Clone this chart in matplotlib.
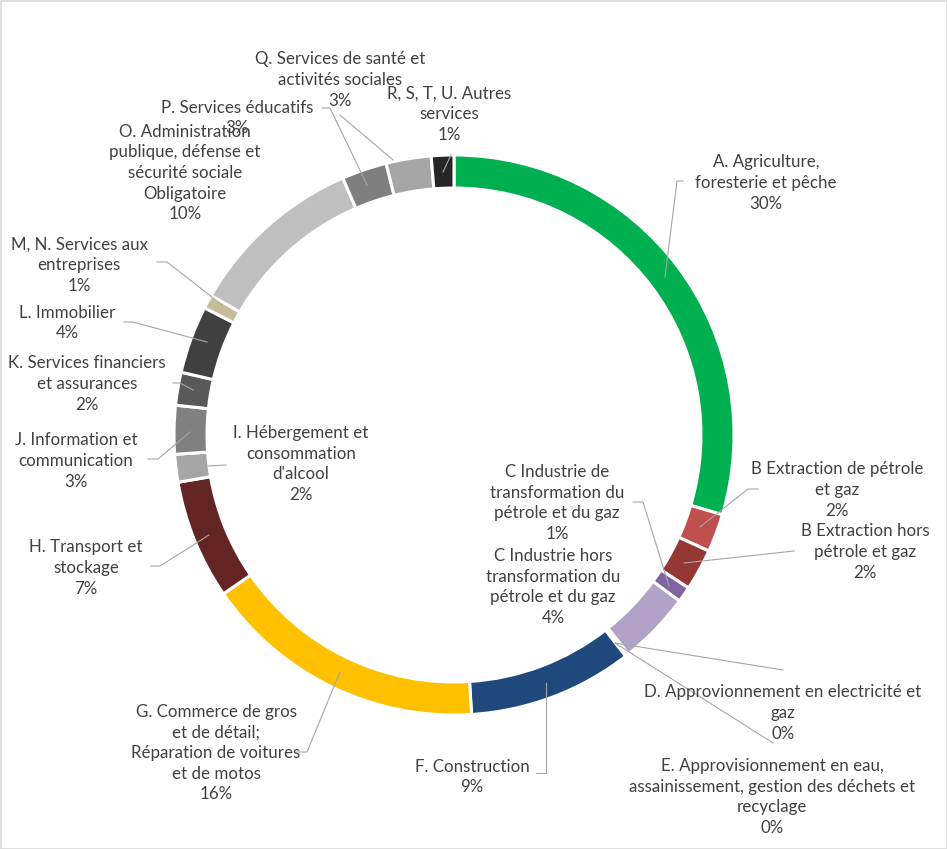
import matplotlib
matplotlib.use("Agg")
import matplotlib.pyplot as plt
from matplotlib.patches import Rectangle

# ---- data ----
categories = [
    "A. Agriculture,\nforesterie et pêche",
    "B Extraction de pétrole\net gaz",
    "B Extraction hors\npétrole et gaz",
    "C Industrie de\ntransformation du\npétrole et du gaz",
    "C Industrie hors\ntransformation du\npétrole et du gaz",
    "D. Approvionnement en electricité et\ngaz",
    "E. Approvisionnement en eau,\nassainissement, gestion des déchets et\nrecyclage",
    "F. Construction",
    "G. Commerce de gros\net de détail;\nRéparation de voitures\net de motos",
    "H. Transport et\nstockage",
    "I. Hébergement et\nconsommation\nd'alcool",
    "J. Information et\ncommunication",
    "K. Services financiers\net assurances",
    "L. Immobilier",
    "M, N. Services aux\nentreprises",
    "O. Administration\npublique, défense et\nsécurité sociale\nObligatoire",
    "P. Services éducatifs",
    "Q. Services de santé et\nactivités sociales",
    "R, S, T, U. Autres\nservices",
]
values = [29.6, 2.2, 2.4, 0.9, 4.2, 0.1, 0.1, 9.5, 16.4, 6.9,
          1.6, 2.8, 1.9, 3.9, 0.8, 10.2, 2.6, 2.6, 1.3]
pct_labels = ["30%", "2%", "2%", "1%", "4%", "0%", "0%", "9%", "16%", "7%",
              "2%", "3%", "2%", "4%", "1%", "10%", "3%", "3%", "1%"]

# ---- styles / layout ----
colors = ["#00B050", "#C0504D", "#953735", "#8064A2", "#B3A2C7", "#4F81BD",
          "#4BACC6", "#1F497D", "#FFC000", "#632523", "#A6A6A6", "#808080",
          "#595959", "#404040", "#C4BD97", "#BFBFBF", "#7F7F7F", "#A6A6A6",
          "#262626"]
label_pos = [(766, 183), (837, 490), (865, 552), (557, 503), (553, 587),
             (783, 713), (772, 797), (472, 777), (216, 753), (86, 568),
             (301, 464), (76, 461), (87, 384), (67, 323), (79, 265),
             (185, 173), (237, 118), (340, 80), (449, 114)]
leaders = [
    [(683, 181), (677, 181), (665, 277)],
    [(758, 489), (748, 489), (700, 527)],
    [(794, 551), (684, 563)],
    [(633, 502), (643, 502), (669, 586)],
    [(783, 670), (615, 643)],
    [(773, 743), (615, 643)],
    [(536, 773), (546, 773), (546, 683)],
    [(297, 752), (307, 752), (340, 672)],
    [(151, 566), (160, 566), (209, 535)],
    [(226, 465), (208, 466)],
    [(148, 459), (158, 459), (190, 432)],
    [(173, 383), (180, 383), (193, 390)],
    [(124, 322), (133, 322), (207, 342)],
    [(157, 262), (167, 262), (222, 305)],
    None,
    [(322, 108), (330, 108), (367, 185)],
    [(340, 115), (393, 160)],
    [(451, 155), (443, 172)],
]
leaders = leaders[:14] + [leaders[14]] + leaders[15:]

W, H = 947, 849
fig = plt.figure(figsize=(W / 100, H / 100), dpi=100)
ax = fig.add_axes([0, 0, 1, 1])
ax.set_xlim(0, W)
ax.set_ylim(H, 0)
ax.set_aspect("equal")
ax.axis("off")

cx, cy, R = 454, 435, 280
ax.pie(values, colors=colors, center=(cx, cy), radius=R, startangle=-90,
       counterclock=True,
       wedgeprops=dict(width=R * 0.118, edgecolor="white", linewidth=2.2),
       frame=True)
ax.set_xlim(0, W)
ax.set_ylim(H, 0)
ax.axis("off")

txtcolor = "#404040"
for name, pct, (x, y) in zip(categories, pct_labels, label_pos):
    ax.text(x, y, name + "\n" + pct, ha="center", va="center",
            fontsize=12.2, family=["Lato", "DejaVu Sans"], color=txtcolor,
            linespacing=1.36, zorder=5)

for seg in leaders:
    if seg is None:
        continue
    xs = [p[0] for p in seg]
    ys = [p[1] for p in seg]
    ax.plot(xs, ys, color="#A6A6A6", lw=0.8, zorder=4)

ax.add_patch(Rectangle((0.5, 0.5), W - 1, H - 1, fill=False,
                       edgecolor="#D9D9D9", lw=1.2, zorder=10))

fig.savefig("out.png", dpi=100)
